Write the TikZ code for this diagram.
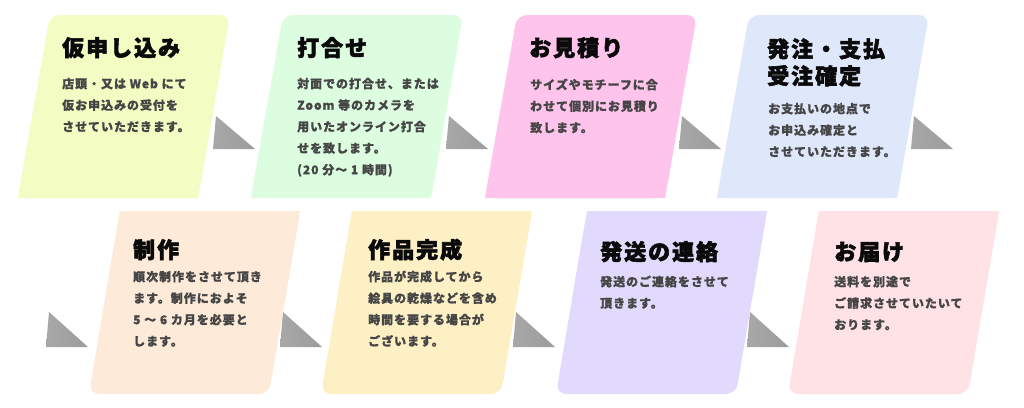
\documentclass[tikz,border=0pt]{standalone}
\usepackage{fontspec}
\setmainfont{Noto Sans CJK JP}
\newfontfamily\titlef{Noto Sans CJK JP}[LetterSpace=9]
\newfontfamily\bodyf{Noto Sans CJK JP}[LetterSpace=8]
\definecolor{cA}{HTML}{F3FDC3}
\definecolor{cB}{HTML}{DDFDE1}
\definecolor{cC}{HTML}{FEC4EC}
\definecolor{cD}{HTML}{DFE8FB}
\definecolor{cE}{HTML}{FDEAD8}
\definecolor{cF}{HTML}{FEF0C5}
\definecolor{cG}{HTML}{E1DAFC}
\definecolor{cH}{HTML}{FEE2E6}
\definecolor{titlecol}{HTML}{0A0A0A}
\definecolor{bodycol}{HTML}{464646}
\definecolor{triL}{HTML}{A8A8A8}
\definecolor{triM}{HTML}{808080}
\definecolor{triR}{HTML}{9C9C9C}
\tikzset{
  titletext/.style={anchor=base west, inner sep=0pt, font=\titlef\bfseries\addfontfeature{FakeBold=2.5}\fontsize{22pt}{27pt}\selectfont, text=titlecol},
  titletwo/.style={anchor=north west, inner sep=0pt, align=left, font=\titlef\bfseries\addfontfeature{FakeBold=2.5}\fontsize{22pt}{27pt}\selectfont, text=titlecol},
  bodytext/.style={anchor=north west, inner sep=0pt, align=left, font=\bodyf\bfseries\addfontfeature{FakeBold=0.8}\fontsize{12pt}{21.5pt}\selectfont, text=bodycol},
  arrowtri/.style={left color=triL, middle color=triM, right color=triR},
}
\newcommand\topcard[2]{%
  \fill[#2, rounded corners=10pt] (#1,15) -- (#1+180,15) -- (#1+148,198) -- (#1-32,198) -- cycle;
  \fill[#2] (#1-14.86,100) -- (#1+165.14,100) -- (#1+148,198) -- (#1-32,198) -- cycle;
}
\newcommand\bottomcard[2]{%
  \fill[#2, rounded corners=10pt] (#1,211) -- (#1+180,211) -- (#1+149,394) -- (#1-31,394) -- cycle;
  \fill[#2] (#1,211) -- (#1+180,211) -- (#1+164.92,300) -- (#1-15.08,300) -- cycle;
}
\newcommand\toptri[1]{%
  \shade[arrowtri] (#1,149) -- (#1+3,116) -- (#1+42,149) -- cycle;
}
\newcommand\bottomtri[1]{%
  \shade[arrowtri] (#1,347) -- (#1+3,312) -- (#1+42,347) -- cycle;
}
\newcommand\sst{\rule{0pt}{11pt}}
\begin{document}
\begin{tikzpicture}[x=1pt,y=-1pt]
\useasboundingbox (0,0) rectangle (1024,407);
\fill[white] (0,0) rectangle (1024,407);
% connectors (decorative triangles)
\toptri{213}
\toptri{446}
\toptri{679}
\toptri{911}
\bottomtri{46}
\bottomtri{280}
\bottomtri{513}
\bottomtri{747}
% cards
\topcard{50}{cA}
\topcard{283}{cB}
\topcard{517}{cC}
\topcard{749}{cD}
\bottomcard{120}{cE}
\bottomcard{352}{cF}
\bottomcard{587}{cG}
\bottomcard{819}{cH}
% titles
\node[titletext] (t1) at (62,56) {仮申し込み};
\node[titletext] (t2) at (297,56) {打合せ};
\node[titletext] (t3) at (529,56) {お見積り};
\node[titletwo] (t4) at (767,37) {\rule{0pt}{20pt}発注・支払\\受注確定};
\node[titletext] (t5) at (133,258) {制作};
\node[titletext] (t6) at (368,258) {作品完成};
\node[titletext] (t7) at (600,260) {発送の連絡};
\node[titletext] (t8) at (834,260) {お届け};
% bodies
\node[bodytext] (b1) at (62,77) {\sst 店頭・又は Web にて\\仮お申込みの受付を\\させていただきます。};
\node[bodytext] (b2) at (297,77) {\sst 対面での打合せ、または\\Zoom 等のカメラを\\用いたオンライン打合\\せを致します。\\(20 分〜 1 時間)};
\node[bodytext] (b3) at (530,78) {\sst サイズやモチーフに合\\わせて個別にお見積り\\致します。};
\node[bodytext] (b4) at (768,102) {\sst お支払いの地点で\\お申込み確定と\\させていただきます。};
\node[bodytext] (b5) at (133,270) {\sst 順次制作をさせて頂き\\ます。制作におよそ\\5 〜 6 カ月を必要と\\します。};
\node[bodytext] (b6) at (368,270) {\sst 作品が完成してから\\絵具の乾燥などを含め\\時間を要する場合が\\ございます。};
\node[bodytext] (b7) at (600,275) {\sst 発送のご連絡をさせて\\頂きます。};
\node[bodytext] (b8) at (834,275) {\sst 送料を別途で\\ご請求させていたいて\\おります。};
\end{tikzpicture}
\end{document}
